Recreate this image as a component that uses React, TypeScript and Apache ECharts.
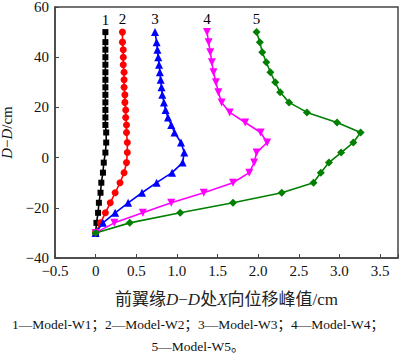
import React, { useEffect, useRef } from "react";
import * as echarts from "echarts";

// Depth nodes (cm) for curves 1-3 and 4-5
const depthsA = [50, 46, 43, 40, 37, 34, 31, 28, 25, 22, 19, 16, 13, 10, 6, 2, -2, -6, -10, -14, -18, -22, -26, -30];
const depthsB = [50, 46, 42, 38, 34, 30, 26, 22, 18, 14, 10, 6, 2, -2, -6, -10, -14, -18, -22, -26, -30];

// Peak X displacement (cm)
const w1 = [0.12, 0.12, 0.12, 0.12, 0.12, 0.12, 0.12, 0.12, 0.12, 0.12, 0.12, 0.12, 0.12, 0.13, 0.13, 0.12, 0.1, 0.09, 0.07, 0.06, 0.04, 0.03, 0.01, 0];
const w2 = [0.33, 0.33, 0.34, 0.34, 0.34, 0.35, 0.35, 0.35, 0.36, 0.36, 0.37, 0.37, 0.38, 0.38, 0.39, 0.39, 0.38, 0.35, 0.3, 0.24, 0.18, 0.12, 0.06, 0];
const w3 = [0.73, 0.75, 0.76, 0.77, 0.78, 0.79, 0.8, 0.81, 0.82, 0.84, 0.86, 0.89, 0.93, 0.97, 1.05, 1.09, 1.07, 0.94, 0.75, 0.57, 0.4, 0.24, 0.09, 0];
const w4 = [1.37, 1.39, 1.41, 1.43, 1.45, 1.48, 1.51, 1.55, 1.65, 1.84, 2.03, 2.11, 1.98, 1.95, 1.89, 1.69, 1.33, 0.93, 0.58, 0.23, 0];
const w5 = [1.98, 2.02, 2.05, 2.1, 2.15, 2.21, 2.27, 2.38, 2.6, 2.97, 3.26, 3.17, 3.02, 2.87, 2.77, 2.68, 2.29, 1.69, 1.04, 0.42, 0];

const seriesNames = ["1", "2", "3", "4", "5"];
const colors = ["#000000", "#ff0000", "#0000ff", "#ff00ff", "#007f00"];
const legendLine1 = "1—Model-W1；2—Model-W2；3—Model-W3；4—Model-W4；";
const legendLine2 = "5—Model-W5。";

const SERIF = "'Liberation Serif', 'Times New Roman', 'Noto Sans CJK SC', serif";

function fmtNum(v: number, dec: number) {
  if (v === 0) return "0";
  return v.toFixed(dec).replace("-", "−");
}

export default function App() {
  const ref = useRef<HTMLDivElement>(null);
  useEffect(() => {
    if (!ref.current) return;
    const chart = echarts.init(ref.current, undefined, { renderer: "svg" });
    const mk = (xs: number[], ys: number[], name: string) =>
      xs.map((x, i) =>
        i === 0
          ? {
              value: [x, ys[i]],
              label: {
                show: true,
                position: "top",
                distance: 2,
                formatter: name,
                fontFamily: SERIF,
                fontSize: 15,
                color: "#000",
              },
            }
          : { value: [x, ys[i]] }
      );
    const defs = [
      { xs: w1, ys: depthsA, symbol: "rect", size: 6, rot: 0 },
      { xs: w2, ys: depthsA, symbol: "circle", size: 7, rot: 0 },
      { xs: w3, ys: depthsA, symbol: "triangle", size: 8, rot: 0 },
      { xs: w4, ys: depthsB, symbol: "triangle", size: 8, rot: 180 },
      { xs: w5, ys: depthsB, symbol: "diamond", size: 8, rot: 0 },
    ];
    chart.setOption({
      animation: false,
      grid: {
        left: 55,
        right: 2,
        top: 7,
        bottom: 98,
        containLabel: false,
        outerBoundsMode: "none",
        show: true,
        borderColor: "#444",
        borderWidth: 1.5,
        backgroundColor: "transparent",
      },
      xAxis: {
        type: "value",
        min: -0.5,
        max: 3.72,
        interval: 0.5,
        splitLine: { show: false },
        axisLine: { show: true, onZero: false, lineStyle: { color: "#444", width: 1.5 } },
        axisTick: { show: true, inside: true, length: 4, lineStyle: { color: "#444" } },
        axisLabel: {
          fontFamily: SERIF,
          fontSize: 15,
          color: "#111",
          margin: 5,
          formatter: (v: number) => (Math.abs(v * 2 - Math.round(v * 2)) < 1e-6 ? fmtNum(v, 1) : ""),
        },
        name: "前翼缘{i|D}−{i|D}处{i|X}向位移峰值/cm",
        nameLocation: "middle",
        nameGap: 33,
        nameTextStyle: {
          fontFamily: SERIF,
          fontSize: 17,
          color: "#222",
          rich: { i: { fontStyle: "italic", fontFamily: SERIF, fontSize: 17, color: "#222" } },
        },
      },
      yAxis: {
        type: "value",
        min: -40,
        max: 60,
        interval: 20,
        splitLine: { show: false },
        axisLine: { show: true, onZero: false, lineStyle: { color: "#444", width: 1.5 } },
        axisTick: { show: true, inside: true, length: 4, lineStyle: { color: "#444" } },
        axisLabel: {
          fontFamily: SERIF,
          fontSize: 15,
          color: "#111",
          margin: 6,
          formatter: (v: number) => fmtNum(v, 0),
        },
        name: "{i|D}−{i|D}/cm",
        nameLocation: "middle",
        nameGap: 31,
        nameTextStyle: {
          fontFamily: SERIF,
          fontSize: 15,
          color: "#111",
          rich: { i: { fontStyle: "italic", fontFamily: SERIF, fontSize: 15, color: "#111" } },
        },
      },
      series: defs.map((d, i) => ({
        type: "line",
        name: seriesNames[i],
        data: mk(d.xs, d.ys, seriesNames[i]),
        symbol: d.symbol,
        symbolSize: d.size,
        symbolRotate: d.rot,
        showAllSymbol: true,
        itemStyle: { color: colors[i] },
        lineStyle: { color: colors[i], width: 1.6 },
        z: 2 + i,
      })),
      graphic: [
        {
          type: "text",
          x: 198,
          y: 324,
          style: {
            text: legendLine1,
            fontFamily: SERIF,
            fontSize: 13.5,
            fill: "#111",
            align: "center",
            verticalAlign: "middle",
          },
        },
        {
          type: "text",
          x: 198,
          y: 346,
          style: {
            text: legendLine2,
            fontFamily: SERIF,
            fontSize: 13.5,
            fill: "#111",
            align: "center",
            verticalAlign: "middle",
          },
        },
      ],
    });
    return () => chart.dispose();
  }, []);
  return (
    <div
      ref={ref}
      style={{ position: "fixed", left: 0, top: 0, width: 400, height: 356, background: "#fff" }}
    />
  );
}
